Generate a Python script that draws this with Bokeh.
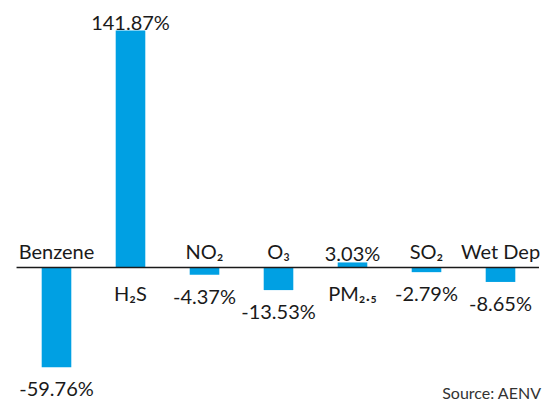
from bokeh.plotting import figure
from bokeh.models import ColumnDataSource, Range1d, Label
from bokeh.core.properties import value
from bokeh.embed import file_html
from bokeh.resources import INLINE

categories = ["Benzene", "H₂S", "NO₂", "O₃", "PM₂.₅", "SO₂", "Wet Dep"]
changes = [-59.76, 141.87, -4.37, -13.53, 3.03, -2.79, -8.65]
source_note = "Source: AENV"

FONT = "Lato"
BLUE = "#00a0e3"
INK = "#1a1a1a"

W, H = 543, 402
zero_px = 267
scale = 1.67
step = 74.0
first_px = 56

idx = list(range(len(categories)))
labels = [f"{v:.2f}%" for v in changes]

pos = [i for i in idx if changes[i] >= 0]
neg = [i for i in idx if changes[i] < 0]

def sub(ids):
    return ColumnDataSource(dict(
        x=[idx[i] for i in ids],
        v=[changes[i] for i in ids],
        cat=[categories[i] for i in ids],
        lab=[labels[i] for i in ids],
    ))

src_all = ColumnDataSource(dict(x=idx, v=changes))
src_pos = sub(pos)
src_neg = sub(neg)

p = figure(width=W, height=H, output_backend="svg", toolbar_location=None,
           x_range=Range1d(-first_px / step, (W - first_px) / step),
           y_range=Range1d(-(H - zero_px) / scale, zero_px / scale),
           min_border=0, outline_line_color=None)
p.axis.visible = False
p.grid.visible = False
p.background_fill_color = "white"
p.border_fill_color = "white"

p.vbar(x="x", top="v", bottom=0, width=0.4, source=src_all,
       fill_color=BLUE, line_color=None)

p.segment(x0=idx[0] - 0.54, x1=idx[-1] + 0.52, y0=0, y1=0,
          line_color=INK, line_width=1.3)

common = dict(text_font=value(FONT), text_font_size="20px", text_color=INK,
              text_align="center", text_baseline="alphabetic")

# negative bars: category above axis, value below bar
p.text(x="x", y=0, text="cat", source=src_neg, y_offset=-17, **common)
p.text(x="x", y="v", text="lab", source=src_neg, y_offset=21, **common)
# positive bars: category below axis, value above bar
p.text(x="x", y=0, text="cat", source=src_pos, y_offset=25, **common)
p.text(x="x", y="v", text="lab", source=src_pos, y_offset=-9, **common)

p.add_layout(Label(x=541, y=10, x_units="screen", y_units="screen",
                   text=source_note, text_font=FONT, text_font_size="16px",
                   text_color="#333333", text_align="right",
                   text_baseline="alphabetic"))

open("out.html", "w").write(file_html(p, INLINE))
